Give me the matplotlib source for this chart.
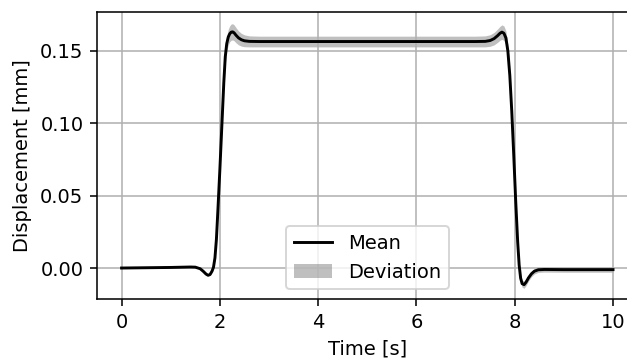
import matplotlib
matplotlib.use("Agg")
import matplotlib.pyplot as plt
import numpy as np

time = [0.0, 0.5, 1.0, 1.4, 1.5, 1.6, 1.66, 1.72, 1.76, 1.8, 1.84, 1.87, 1.9, 1.93, 1.96,
        2.0, 2.04, 2.08, 2.11, 2.14, 2.17, 2.2, 2.23, 2.26, 2.29, 2.33, 2.38, 2.44, 2.5,
        2.6, 2.8, 3.5, 5.0, 6.5, 7.2, 7.4, 7.5, 7.58, 7.65, 7.7, 7.74, 7.78, 7.82, 7.86,
        7.9, 7.94, 7.98, 8.02, 8.06, 8.09, 8.12, 8.15, 8.19, 8.23, 8.28, 8.34, 8.4, 8.48,
        8.6, 9.0, 9.5, 10.0]

mean = [0.0, 0.0002, 0.0004, 0.0007, 0.0006, -0.0005, -0.0022, -0.0042, -0.0050, -0.0045,
        -0.0022, 0.0005, 0.007, 0.020, 0.040, 0.068, 0.098, 0.128, 0.146, 0.155, 0.1595,
        0.1618, 0.1630, 0.1632, 0.1625, 0.1608, 0.1590, 0.1577, 0.1570, 0.1566, 0.1565,
        0.1565, 0.1565, 0.1565, 0.1565, 0.1566, 0.1572, 0.1585, 0.1605, 0.1622, 0.1630,
        0.1622, 0.1590, 0.150, 0.133, 0.108, 0.078, 0.046, 0.018, 0.002, -0.007, -0.0108,
        -0.0115, -0.0098, -0.0068, -0.0040, -0.0022, -0.0012, -0.0010, -0.0011, -0.0011,
        -0.0011]

deviation = [0.0002, 0.0002, 0.0002, 0.0002, 0.0003, 0.0004, 0.0005, 0.0005, 0.0005, 0.0006,
             0.0008, 0.0012, 0.0018, 0.0025, 0.003, 0.0035, 0.004, 0.0045, 0.005, 0.0052,
             0.0054, 0.0055, 0.0056, 0.0056, 0.0055, 0.0052, 0.0048, 0.0044, 0.0041, 0.0038,
             0.0037, 0.0037, 0.0037, 0.0037, 0.0037, 0.0038, 0.0040, 0.0043, 0.0046, 0.0048,
             0.0050, 0.0050, 0.0048, 0.0045, 0.0040, 0.0036, 0.0032, 0.0030, 0.0028, 0.0026,
             0.0025, 0.0025, 0.0025, 0.0024, 0.0022, 0.0020, 0.0019, 0.0018, 0.0018, 0.0018,
             0.0018, 0.0018]

W, H, DPI = 627, 359, 140
fig = plt.figure(figsize=(W / DPI, H / DPI), dpi=DPI)
ax = fig.add_axes([97 / W, 60 / H, (637.6 - 97) / W, 287 / H])

t = np.array(time)
m = np.array(mean)
d = np.array(deviation)
ax.fill_between(t, m - d, m + d, color="gray", alpha=0.5, linewidth=0, label="Deviation")
ax.plot(t, m, color="black", linewidth=1.5, label="Mean")

ax.set_xlim(-0.5, 10.5)
ax.set_ylim(-0.0214, 0.1769)
ax.set_xticks([0, 2, 4, 6, 8, 10])
ax.set_yticks([0.0, 0.05, 0.10, 0.15])
ax.yaxis.set_major_formatter(matplotlib.ticker.FormatStrFormatter("%.2f"))
ax.grid(True)
ax.set_xlabel("Time [s]")
ax.set_ylabel("Displacement [mm]")

handles, labels = ax.get_legend_handles_labels()
order = [labels.index("Mean"), labels.index("Deviation")]
ax.legend([handles[i] for i in order], [labels[i] for i in order], loc="lower center")

fig.savefig("out.png", dpi=DPI)
